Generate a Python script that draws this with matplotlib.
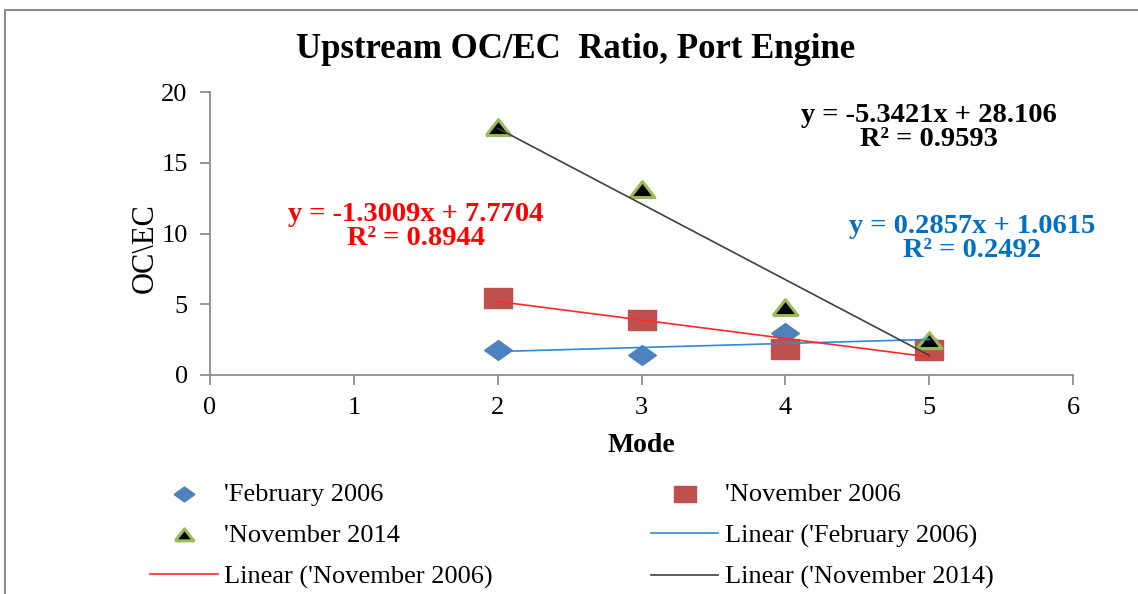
import numpy as np
import matplotlib
matplotlib.use("Agg")
import matplotlib.pyplot as plt
from matplotlib.patches import Rectangle

plt.rcParams['font.family'] = ['Liberation Serif', 'DejaVu Serif']

# Werte
modes = [2, 3, 4, 5]
feb_2006 = [1.77, 1.41, 2.97, 2.20]
nov_2006 = [5.44, 3.89, 1.84, 1.77]
nov_2014 = [17.46, 13.07, 4.73, 2.40]

series_names = ["'February 2006", "'November 2006", "'November 2014"]
eq_texts = ["y = 0.2857x + 1.0615\nR² = 0.2492",
            "y = -1.3009x + 7.7704\nR² = 0.8944",
            "y = -5.3421x + 28.106\nR² = 0.9593"]

# breite Marker wie im Original (Bild ist in die Breite gezogen)
m_diamond = [(-1.4, 0), (0, 1), (1.4, 0), (0, -1), (-1.4, 0)]
m_square = [(-1.4, -1), (1.4, -1), (1.4, 1), (-1.4, 1), (-1.4, -1)]
m_tri = [(-1.4, -0.8), (1.4, -0.8), (0, 1.0), (-1.4, -0.8)]

fig = plt.figure(figsize=(11.38, 5.94), dpi=100)
ax = fig.add_axes([0.1845, 0.3687, 0.7585, 0.4763])

# Rahmen des Diagrammbereichs
fig.patches.append(Rectangle((0.004, -0.1), 1.2, 1.083, transform=fig.transFigure,
                             fill=False, edgecolor='#8c8c8c', linewidth=1.5))

x = np.array(modes)
h_feb = ax.scatter(x, feb_2006, marker=m_diamond, s=400, color='#4F81BD', zorder=3)
h_nov06 = ax.scatter(x, nov_2006, marker=m_square, s=420, color='#C0504D', zorder=3)
h_nov14 = ax.scatter(x, nov_2014, marker=m_tri, s=320, facecolor='black',
                     edgecolor='#9BBB59', linewidths=2.2, zorder=4)

# Trendlinien
line_cols = ['#2E8BD6', '#FF2A2A', '#404040']
fits = []
for ys, c in zip([feb_2006, nov_2006, nov_2014], line_cols):
    k, d = np.polyfit(x, ys, 1)
    fits.append(ax.plot(x, k * x + d, color=c, lw=1.2, zorder=5)[0])

ax.set_xlim(0, 6)
ax.set_ylim(0, 20)
ax.set_xticks(range(0, 7))
ax.set_yticks(range(0, 21, 5))
for s in ['top', 'right']:
    ax.spines[s].set_visible(False)
for s in ['left', 'bottom']:
    ax.spines[s].set_color('#8c8c8c')
    ax.spines[s].set_linewidth(1.3)
ax.tick_params(direction='out', length=7, width=1.3, color='#8c8c8c',
               labelsize=19, pad=9)

ax.set_xlabel('Mode', fontsize=20, fontweight='bold')
ax.xaxis.set_label_coords(0.5, -0.205)
ax.set_ylabel('OC\\EC', fontsize=22)
ax.yaxis.set_label_coords(-0.058, 0.45)
fig.text(0.506, 0.916, 'Upstream OC/EC  Ratio, Port Engine', ha='center', va='center',
         fontsize=25, fontweight='bold')

eq_kw = dict(fontsize=20.5, fontweight='bold', ha='center', va='center', linespacing=0.95)
ax.text(5.0, 17.5, eq_texts[2], color='black', **eq_kw)
ax.text(1.43, 10.5, eq_texts[1], color='#FF0000', **eq_kw)
ax.text(5.30, 9.68, eq_texts[0], color='#0070C0', **eq_kw)

handles = [h_feb, h_nov14, fits[1], h_nov06, fits[0], fits[2]]
labels = [series_names[0], series_names[2], 'Linear (' + series_names[1] + ')',
          series_names[1], 'Linear (' + series_names[0] + ')', 'Linear (' + series_names[2] + ')']
leg = fig.legend(handles, labels, ncol=2, loc='upper left', bbox_to_anchor=(0.132, 0.188),
                 frameon=False, fontsize=19, columnspacing=6.0, handlelength=2.55,
                 handletextpad=0.25, labelspacing=0.68, borderpad=0, borderaxespad=0,
                 scatterpoints=1, markerscale=0.75)

fig.savefig('out.png', dpi=100)
